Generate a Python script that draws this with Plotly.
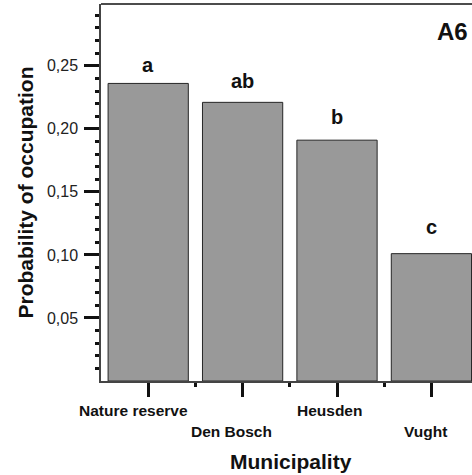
import plotly.graph_objects as go

municipalities = ["Nature reserve", "Den Bosch", "Heusden", "Vught"]
probability = [0.236, 0.221, 0.191, 0.101]
letters = ["a", "ab", "b", "c"]
y_ticks = [0.05, 0.10, 0.15, 0.20, 0.25]
y_minor = [0.01, 0.02, 0.03, 0.04, 0.06, 0.07, 0.08, 0.09, 0.11, 0.12, 0.13, 0.14,
           0.16, 0.17, 0.18, 0.19, 0.21, 0.22, 0.23, 0.24, 0.26, 0.27, 0.28, 0.29]
label_row = [0, 1, 0, 1]
label_shift = [-15, -11, -8, -6]
letter_gap = [5, 8, 10, 14]

FONT = "Liberation Sans, Arial, sans-serif"
xs = list(range(len(municipalities)))

fig = go.Figure()
fig.add_trace(go.Bar(
    x=xs, y=probability, width=0.85,
    marker=dict(color="#999999", line=dict(color="#262626", width=1)),
    hoverinfo="skip",
))

ann = []
for i, (v, t) in enumerate(zip(probability, letters)):
    ann.append(dict(x=i, y=v, xref="x", yref="y", text=f"<b>{t}</b>", showarrow=False,
                    yanchor="bottom", yshift=letter_gap[i], font=dict(size=20, family=FONT, color="#111")))
for i, name in enumerate(municipalities):
    ann.append(dict(x=i, y=0, xref="x", yref="paper", text=f"<b>{name}</b>", showarrow=False,
                    yanchor="middle", xanchor="center", yshift=-29 - 21 * label_row[i],
                    xshift=label_shift[i], font=dict(size=15.5, family=FONT, color="#111")))
ann.append(dict(x=0.5, y=0, xref="paper", yref="paper", text="<b>Municipality</b>", showarrow=False,
                yanchor="middle", xanchor="center", yshift=-80, xshift=4,
                font=dict(size=21, family=FONT, color="#111")))
ann.append(dict(x=0, y=0.5, xref="paper", yref="paper", text="<b>Probability of occupation</b>",
                showarrow=False, textangle=-90, xanchor="center", yanchor="middle", xshift=-76,
                font=dict(size=21, family=FONT, color="#111")))
ann.append(dict(x=1, y=1, xref="paper", yref="paper", text="<b>A6</b>", showarrow=False,
                xanchor="right", yanchor="middle", yshift=-27, xshift=-2,
                font=dict(size=24, family=FONT, color="#111")))

fig.update_layout(
    width=472, height=475,
    margin=dict(l=101, r=0, t=4, b=94),
    plot_bgcolor="white", paper_bgcolor="white",
    separators=",.",
    showlegend=False,
    annotations=ann,
    shapes=[dict(type="line", xref="paper", yref="paper", x0=0, x1=1, y0=1, y1=1,
                 line=dict(color="#111", width=1.5))],
    xaxis=dict(range=[-0.5, 3.43], tickvals=xs, ticktext=["" for _ in xs],
               ticks="outside", ticklen=14, tickwidth=3, tickcolor="#111",
               showline=True, linecolor="#444", linewidth=1.5, showgrid=False, zeroline=False,
               minor=dict(tickvals=[0.5, 1.5, 2.5], ticks="outside", ticklen=4, tickwidth=3,
                          tickcolor="#111", showgrid=False)),
    yaxis=dict(range=[0, 0.299], tickvals=y_ticks, tickformat=".2f",
               ticks="outside", ticklen=15, tickwidth=3, tickcolor="#111",
               tickfont=dict(size=16, family=FONT, color="#222"), ticklabelstandoff=3,
               showline=True, linecolor="#444", linewidth=1.5, showgrid=False, zeroline=False,
               minor=dict(tickvals=y_minor, ticks="outside", ticklen=4, tickwidth=3,
                          tickcolor="#111", showgrid=False)),
)

fig.write_html("out.html")
